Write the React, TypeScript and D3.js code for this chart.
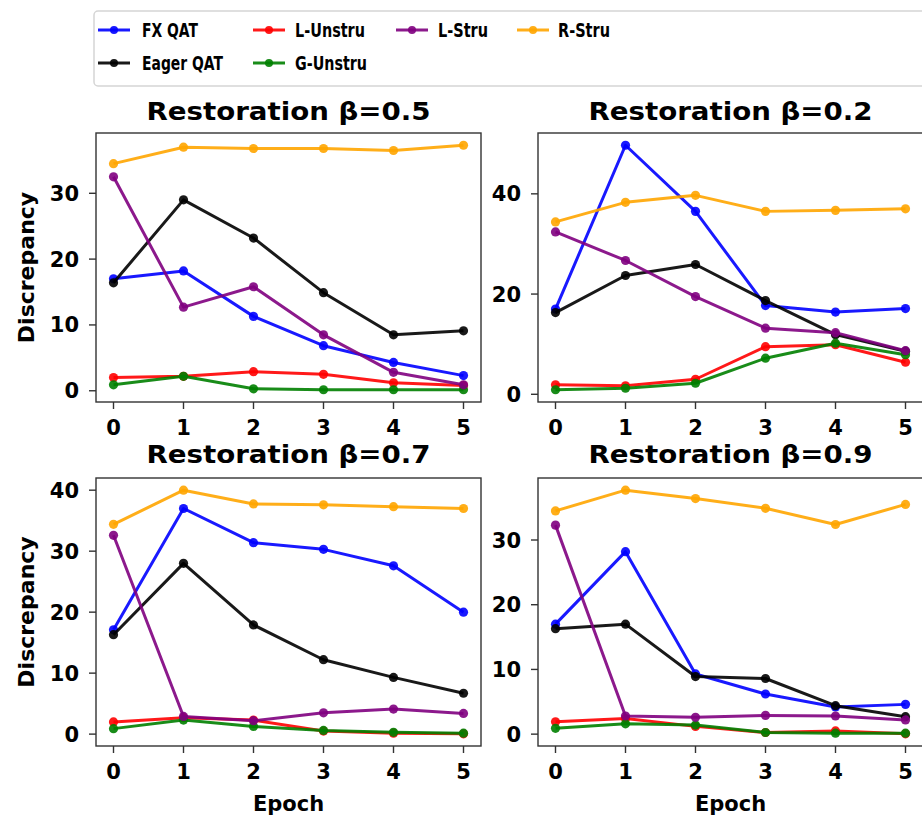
import React from "react";
import * as d3 from "d3";

const epochs = [0, 1, 2, 3, 4, 5];
const seriesNames = ["FX QAT", "Eager QAT", "L-Unstru", "G-Unstru", "L-Stru", "R-Stru"];
const seriesColors = ["#0000ff", "#000000", "#ff0000", "#008000", "#800080", "#ffa500"];

// order: FX QAT, Eager QAT, L-Unstru, G-Unstru, L-Stru, R-Stru
const beta05 = [
  [17.0, 18.2, 11.3, 6.85, 4.3, 2.3],
  [16.4, 29.0, 23.2, 14.9, 8.5, 9.1],
  [2.0, 2.2, 2.9, 2.5, 1.2, 0.8],
  [0.9, 2.2, 0.3, 0.15, 0.15, 0.15],
  [32.5, 12.7, 15.8, 8.5, 2.8, 0.9],
  [34.5, 37.0, 36.8, 36.8, 36.5, 37.3],
];
const beta02 = [
  [17.0, 49.7, 36.5, 17.7, 16.4, 17.1],
  [16.3, 23.7, 25.9, 18.7, 11.9, 8.6],
  [1.9, 1.7, 3.0, 9.5, 9.9, 6.4],
  [0.9, 1.2, 2.2, 7.2, 10.2, 7.9],
  [32.4, 26.7, 19.5, 13.2, 12.3, 8.7],
  [34.4, 38.3, 39.7, 36.5, 36.7, 37.0],
];
const beta07 = [
  [17.1, 37.0, 31.4, 30.3, 27.6, 20.0],
  [16.3, 28.0, 17.9, 12.2, 9.3, 6.7],
  [2.0, 2.7, 2.3, 0.5, 0.15, 0.05],
  [0.9, 2.3, 1.25, 0.6, 0.3, 0.15],
  [32.6, 2.9, 2.2, 3.5, 4.1, 3.4],
  [34.4, 40.0, 37.75, 37.6, 37.3, 37.0],
];
const beta09 = [
  [17.0, 28.2, 9.3, 6.2, 4.2, 4.6],
  [16.3, 17.0, 8.9, 8.6, 4.4, 2.7],
  [1.9, 2.4, 1.2, 0.25, 0.5, 0.05],
  [0.9, 1.6, 1.4, 0.25, 0.15, 0.15],
  [32.3, 2.8, 2.6, 2.9, 2.8, 2.2],
  [34.5, 37.7, 36.4, 34.9, 32.4, 35.5],
];

const titles = ["Restoration β=0.5", "Restoration β=0.2", "Restoration β=0.7", "Restoration β=0.9"];
const panelData = [beta05, beta02, beta07, beta09];
const yTicks = [
  [0, 10, 20, 30],
  [0, 20, 40],
  [0, 10, 20, 30, 40],
  [0, 10, 20, 30],
];
const xTickLabels = ["0", "1", "2", "3", "4", "5"];

const FONT = "'DejaVu Sans', sans-serif";

const frames = [
  { left: 96, top: 133, width: 385, height: 269, titleY: 120, ylabel: true, xlabel: false },
  { left: 538, top: 133, width: 385, height: 269, titleY: 120, ylabel: false, xlabel: false },
  { left: 96, top: 478, width: 385, height: 268, titleY: 463, ylabel: true, xlabel: true },
  { left: 538, top: 478, width: 385, height: 268, titleY: 463, ylabel: false, xlabel: true },
];

const legendColX = [
  { lineX: 98, textX: 142 },
  { lineX: 253, textX: 295 },
  { lineX: 396, textX: 438 },
  { lineX: 517, textX: 558 },
];
const legendRows = [30, 63];
// column / row slot of each series in the legend (matplotlib ncol=4, column-major)
const legendCol = [0, 0, 1, 1, 2, 3];
const legendRow = [0, 1, 0, 1, 0, 0];
const legendTextWidths = [56, 81, 70, 72, 50, 52];

function Panel({ idx }: { idx: number }) {
  const f = frames[idx];
  const data = panelData[idx];
  const x = d3.scaleLinear().domain([-0.25, 5.25]).range([f.left, f.left + f.width]);
  const all = data.flat();
  const [mn, mx] = d3.extent(all) as [number, number];
  const pad = (mx - mn) * 0.05;
  const y = d3.scaleLinear().domain([mn - pad, mx + pad]).range([f.top + f.height, f.top]);
  const line = d3
    .line<number>()
    .x((_, i) => x(epochs[i]))
    .y((d) => y(d));
  const bottom = f.top + f.height;
  const cx = f.left + f.width / 2;
  const cy = f.top + f.height / 2;
  return (
    <g>
      <text
        x={cx}
        y={f.titleY}
        textAnchor="middle"
        fontFamily={FONT}
        fontWeight="bold"
        fontSize={25.5}
        textLength={284}
        lengthAdjust="spacingAndGlyphs"
        fill="#000"
      >
        {titles[idx]}
      </text>
      {data.map((s, si) => (
        <g key={si}>
          <path d={line(s) || ""} fill="none" stroke={seriesColors[si]} strokeWidth={3} strokeOpacity={0.9} strokeLinejoin="round" />
          {s.map((v, i) => (
            <circle key={i} cx={x(epochs[i])} cy={y(v)} r={4.6} fill={seriesColors[si]} fillOpacity={0.9} />
          ))}
        </g>
      ))}
      <rect x={f.left} y={f.top} width={f.width} height={f.height} fill="none" stroke="#333" strokeWidth={1.4} />
      {epochs.map((e, i) => (
        <g key={i}>
          <line x1={x(e)} x2={x(e)} y1={bottom} y2={bottom + 7} stroke="#333" strokeWidth={1.4} />
          <text x={x(e)} y={bottom + 33} textAnchor="middle" fontFamily={FONT} fontWeight="bold" fontSize={21} fill="#000">
            {xTickLabels[i]}
          </text>
        </g>
      ))}
      {yTicks[idx].map((t) => (
        <g key={t}>
          <line x1={f.left - 7} x2={f.left} y1={y(t)} y2={y(t)} stroke="#333" strokeWidth={1.4} />
          <text x={f.left - 17} y={y(t)} dy="0.36em" textAnchor="end" fontFamily={FONT} fontWeight="bold" fontSize={21} fill="#000">
            {t}
          </text>
        </g>
      ))}
      {f.ylabel && (
        <text
          transform={`translate(34,${cy}) rotate(-90)`}
          textAnchor="middle"
          fontFamily={FONT}
          fontWeight="bold"
          fontSize={22}
          fill="#000"
        >
          Discrepancy
        </text>
      )}
      {f.xlabel && (
        <text x={cx} y={811} textAnchor="middle" fontFamily={FONT} fontWeight="bold" fontSize={21} fill="#000">
          Epoch
        </text>
      )}
    </g>
  );
}

function Legend() {
  return (
    <g>
      <rect x={94} y={11} width={860} height={75} rx={4} fill="#fff" stroke="#d5d5d5" strokeWidth={1.5} />
      {seriesNames.map((name, i) => {
        const col = legendColX[legendCol[i]];
        const ry = legendRows[legendRow[i]];
        return (
          <g key={name}>
            <line x1={col.lineX} x2={col.lineX + 32} y1={ry} y2={ry} stroke={seriesColors[i]} strokeWidth={3} strokeOpacity={0.9} />
            <circle cx={col.lineX + 16} cy={ry} r={4} fill={seriesColors[i]} fillOpacity={0.9} />
            <text
              x={col.textX}
              y={ry}
              dy="0.36em"
              fontFamily={FONT}
              fontWeight="bold"
              fontSize={20}
              textLength={legendTextWidths[i]}
              lengthAdjust="spacingAndGlyphs"
              fill="#000"
            >
              {name}
            </text>
          </g>
        );
      })}
    </g>
  );
}

export default function App() {
  return (
    <svg width={922} height={815} style={{ position: "absolute", left: 0, top: 0, background: "#fff" }}>
      <rect x={0} y={0} width={922} height={815} fill="#fff" />
      {frames.map((_, i) => (
        <Panel key={i} idx={i} />
      ))}
      <Legend />
    </svg>
  );
}
